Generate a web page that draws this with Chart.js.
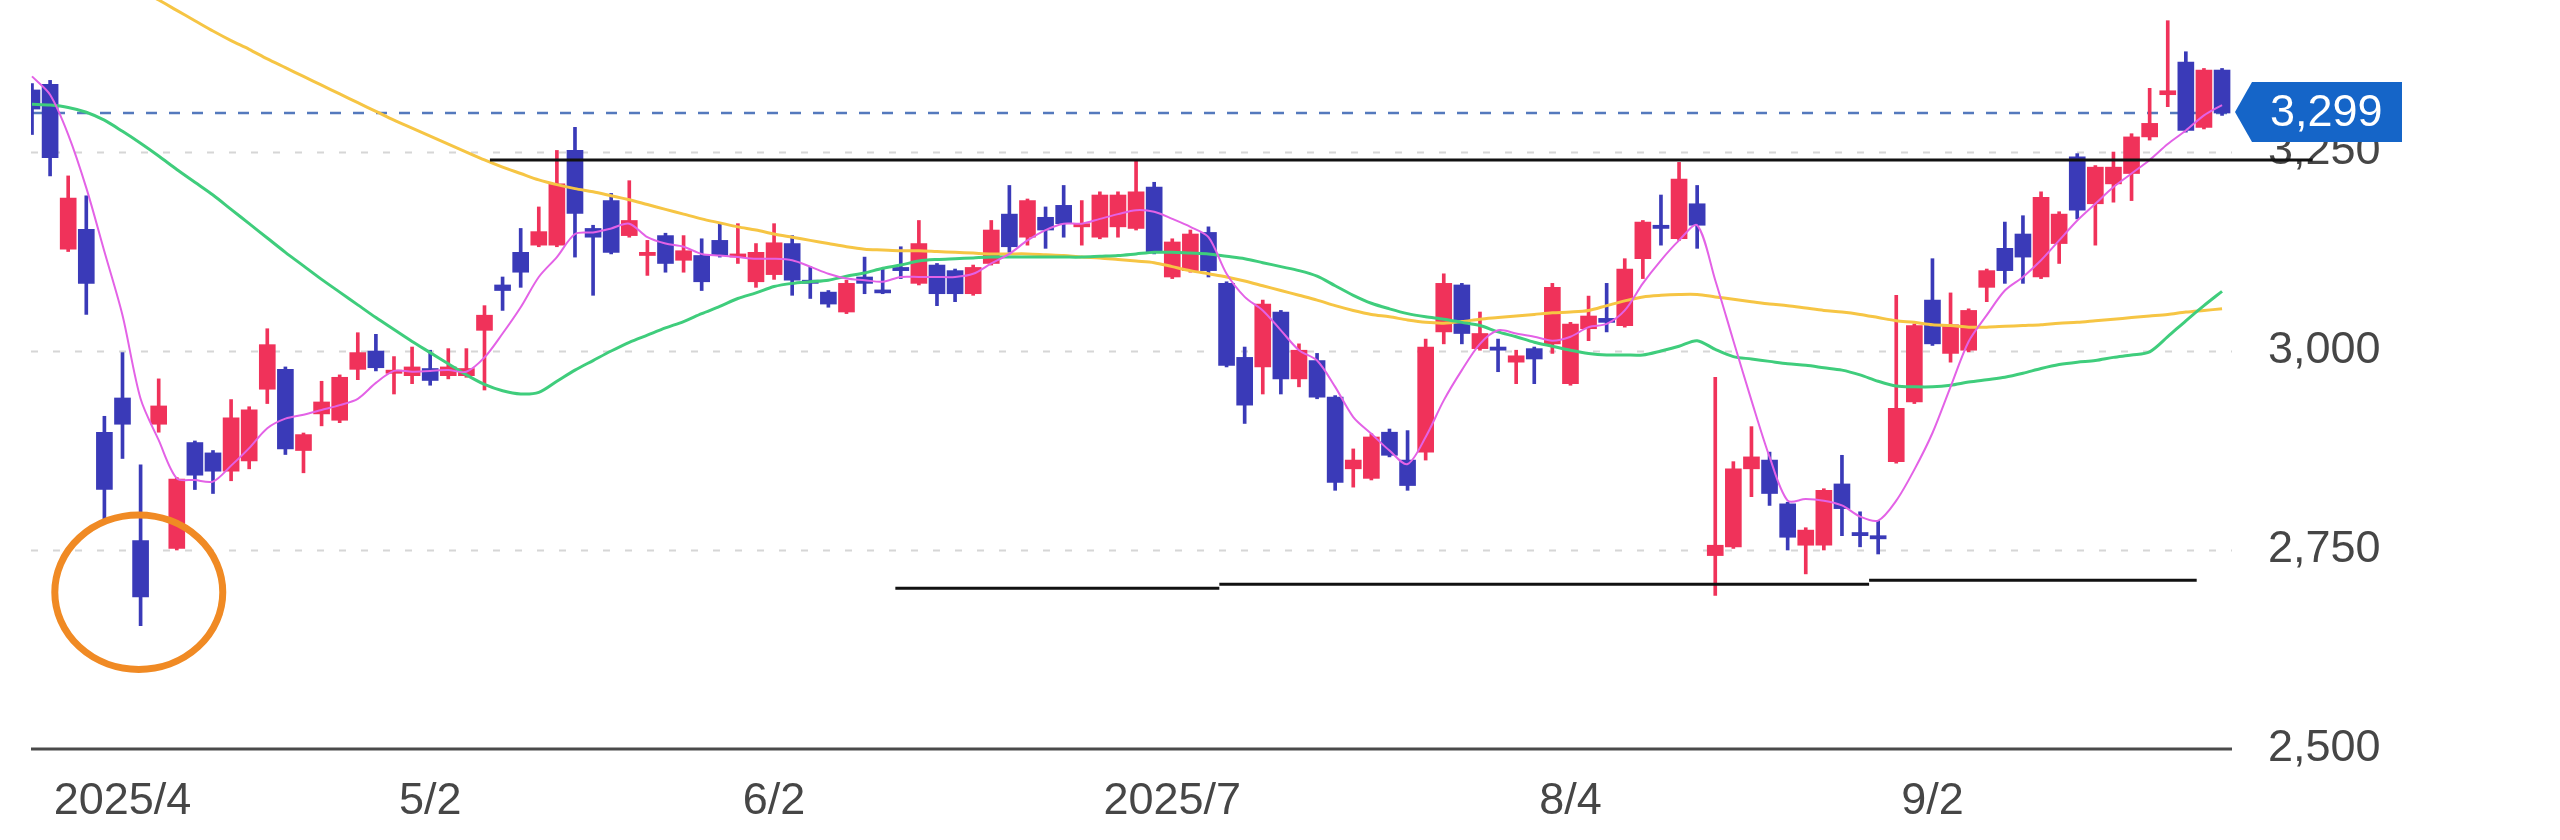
<!DOCTYPE html>
<html>
<head>
<meta charset="utf-8">
<title>Daily candles 2025/4 - 2025/9</title>
<script src="https://cdn.jsdelivr.net/npm/chart.js@4.4.1/dist/chart.umd.min.js"></script>
<style>
  html, body { margin: 0; padding: 0; background: #fff; }
  #wrap { width: 2560px; height: 840px; }
</style>
</head>
<body>
<div id="wrap"><canvas id="chart" width="2560" height="840"></canvas></div>
<script>
// daily candles, index 0 = first session shown (2025/4/1)
var opens = [
  3328,3335,3128,3153,2898,2941,2762,2908,2752,2885,
  2872,2849,2862,2952,2977,2875,2921,2913,2977,3000,
  2972,2969,2978,2969,2969,3026,3083,3124,3133,3133,
  3252,3154,3189,3145,3120,3145,3114,3120,3139,3118,
  3087,3096,3135,3089,3074,3049,3093,3076,3105,3085,
  3108,3101,3072,3110,3172,3143,3168,3183,3156,3143,
  3156,3154,3206,3093,3101,3149,3085,2992,2980,3049,
  2965,2988,2942,2852,2840,2898,2863,2873,3024,3083,
  3003,3005,2986,3003,3009,2959,3028,3041,3032,3116,
  3158,3141,3185,2743,2754,2852,2863,2808,2756,2756,
  2833,2772,2768,2861,2936,3064,2997,3001,3080,3129,
  3147,3093,3135,3244,3185,3210,3223,3269,3322,3363,
  3281,3353
];
var highs = [
  3336,3340,3220,3195,2918,2998,2857,2965,2841,2887,
  2875,2939,2930,3028,2980,2897,2962,2970,3023,3021,
  2993,3005,3001,3003,3003,3057,3093,3154,3181,3252,
  3281,3158,3198,3214,3139,3148,3145,3141,3160,3160,
  3135,3160,3145,3106,3076,3089,3118,3103,3131,3164,
  3110,3103,3108,3164,3208,3191,3181,3208,3189,3200,
  3200,3240,3212,3141,3152,3156,3087,3005,3064,3051,
  3009,2997,2944,2877,2896,2902,2900,3015,3097,3085,
  3049,3015,3001,3005,3085,3036,3069,3085,3116,3164,
  3196,3237,3208,2967,2861,2905,2873,2810,2778,2827,
  2869,2798,2787,3070,3034,3116,3073,3053,3103,3162,
  3170,3200,3175,3248,3233,3250,3273,3330,3415,3376,
  3355,3355
];
var lows = [
  3272,3220,3125,3046,2788,2865,2655,2898,2750,2826,
  2821,2837,2852,2934,2870,2847,2906,2910,2964,2975,
  2946,2959,2957,2965,2967,2951,3051,3080,3131,3131,
  3118,3070,3122,3143,3095,3099,3099,3076,3118,3110,
  3080,3090,3070,3066,3055,3047,3072,3072,3091,3083,
  3057,3062,3070,3108,3124,3133,3129,3143,3133,3141,
  3143,3152,3122,3091,3099,3093,2980,2909,2946,2946,
  2955,2940,2825,2829,2838,2867,2825,2863,3009,3009,
  3001,2974,2959,2959,2997,2957,3013,3024,3030,3091,
  3133,3139,3129,2693,2752,2817,2806,2750,2720,2750,
  2768,2754,2745,2859,2934,3007,2986,2999,3062,3085,
  3085,3091,3110,3166,3133,3187,3189,3265,3307,3275,
  3279,3296
];
var closes = [
  3304,3243,3192,3085,2826,2908,2691,2931,2839,2844,
  2849,2916,2926,3008,2877,2895,2936,2967,2998,2979,
  2976,2980,2963,2980,2978,3045,3076,3099,3150,3210,
  3173,3143,3124,3164,3124,3110,3126,3087,3120,3122,
  3124,3136,3089,3085,3059,3085,3085,3073,3101,3135,
  3072,3072,3105,3152,3131,3189,3152,3160,3160,3196,
  3196,3200,3124,3137,3147,3101,2982,2932,3059,2965,
  3001,2942,2835,2863,2892,2869,2831,3005,3085,3022,
  3022,3001,2994,2990,3080,3034,3044,3036,3103,3162,
  3154,3216,3158,2756,2852,2867,2821,2766,2775,2825,
  2802,2768,2764,2928,3032,3009,3033,3051,3101,3101,
  3118,3193,3172,3177,3231,3231,3269,3286,3327,3277,
  3353,3299
];

// moving average lines
var ma5 = [
  3345,3322,3272,3205,3125,3045,2940,2888,2840,2838,
  2836,2856,2878,2903,2915,2920,2926,2932,2940,2960,
  2975,2974,2975,2976,2974,2992,3022,3055,3093,3118,
  3147,3149,3154,3160,3143,3135,3131,3122,3120,3118,
  3116,3116,3114,3106,3097,3091,3089,3087,3093,3093,
  3093,3093,3097,3110,3122,3139,3152,3160,3160,3166,
  3172,3177,3175,3166,3156,3143,3097,3068,3051,3026,
  3001,2988,2955,2917,2896,2875,2858,2892,2938,2976,
  3009,3026,3022,3018,3013,3018,3030,3034,3051,3085,
  3114,3139,3158,3089,3013,2938,2867,2812,2814,2812,
  2806,2792,2787,2812,2851,2897,2955,3012,3045,3076,
  3093,3114,3139,3164,3185,3206,3223,3240,3260,3277,
  3296,3309
];
var ma25 = [
  3310,3309,3306,3300,3290,3276,3261,3245,3228,3212,
  3196,3178,3160,3142,3124,3107,3090,3074,3058,3042,
  3027,3012,2998,2984,2970,2958,2950,2946,2948,2962,
  2976,2988,3000,3011,3020,3029,3037,3047,3056,3066,
  3073,3081,3085,3087,3089,3094,3098,3104,3108,3113,
  3115,3116,3117,3118,3118,3118,3118,3118,3118,3119,
  3120,3122,3124,3124,3123,3122,3119,3116,3111,3106,
  3101,3094,3082,3070,3060,3053,3047,3043,3040,3036,
  3032,3024,3018,3011,3006,3001,2997,2995,2995,2995,
  3000,3006,3013,3002,2993,2990,2987,2984,2982,2979,
  2976,2970,2962,2956,2955,2955,2957,2961,2964,2967,
  2972,2978,2983,2986,2988,2992,2995,2999,3018,3038,
  3057,3075
];
var ma75 = [
  3530,3518,3505,3492,3479,3466,3453,3441,3428,3415,
  3402,3390,3379,3367,3356,3345,3334,3323,3312,3301,
  3290,3280,3270,3260,3250,3240,3231,3223,3215,3209,
  3204,3200,3195,3190,3184,3178,3172,3166,3161,3156,
  3152,3147,3143,3139,3135,3131,3128,3127,3126,3126,
  3125,3124,3123,3122,3122,3122,3121,3120,3118,3117,
  3115,3113,3111,3106,3101,3097,3093,3088,3082,3076,
  3070,3064,3057,3051,3046,3043,3039,3036,3035,3037,
  3040,3042,3044,3046,3048,3049,3051,3057,3063,3068,
  3070,3071,3071,3068,3065,3062,3059,3057,3054,3051,
  3049,3046,3042,3038,3036,3033,3032,3030,3030,3031,
  3032,3033,3035,3036,3038,3040,3042,3044,3046,3049,
  3051,3053
];

var yTicks = [2500, 2750, 3000, 3250];
var xTickIdx = [5, 22, 41, 63, 85, 105];
var xTickText = ['2025/4', '5/2', '6/2', '2025/7', '8/4', '9/2'];

// hand drawn marks on the chart (index / price units)
var resistance = { from: 25.3, to: 126, value: 3240 };
var supports = [
  { from: 47.7, to: 65.6, value: 2702 },
  { from: 65.6, to: 101.5, value: 2707 },
  { from: 101.5, to: 119.6, value: 2712 }
];
var lowMark = { x: 5.9, y: 2697, rx: 4.64, ry: 97 };

var RED = '#f0325a';
var BLUE = '#3a3ab8';
var FONT = '"Liberation Sans", Arial, sans-serif';

Chart.defaults.font.family = FONT;

function upColor(i) {
  return closes[i] >= opens[i] ? RED : BLUE;
}
function pairs(a, b) {
  return a.map(function (v, i) { return { x: i, y: [v, b[i]] }; });
}
function points(a) {
  return a.map(function (v, i) { return { x: i, y: v }; });
}
function line(c, x1, y1, x2, y2) {
  c.beginPath();
  c.moveTo(x1, y1);
  c.lineTo(x2, y2);
  c.stroke();
}

var overlay = {
  id: 'overlay',
  beforeDatasetsDraw: function (chart) {
    var c = chart.ctx, a = chart.chartArea, y = chart.scales.y;
    c.save();
    c.lineWidth = 2;
    c.strokeStyle = '#d6d6d6';
    c.setLineDash([7, 15]);
    yTicks.slice(1).forEach(function (v) {
      var py = Math.round(y.getPixelForValue(v)) + 0.5;
      line(c, a.left, py, a.right, py);
    });
    // last price
    c.strokeStyle = '#5479bd';
    c.lineWidth = 2.5;
    c.setLineDash([11, 12]);
    var lp = Math.round(y.getPixelForValue(closes[closes.length - 1]));
    line(c, a.left, lp, a.right, lp);
    // base axis line
    c.setLineDash([]);
    c.strokeStyle = '#4a4a4a';
    c.lineWidth = 3;
    var by = y.getPixelForValue(yTicks[0]);
    line(c, a.left, by, a.right, by);
    c.restore();
  },
  afterDraw: function (chart) {
    var c = chart.ctx, a = chart.chartArea, x = chart.scales.x, y = chart.scales.y;
    c.save();
    c.strokeStyle = '#111';
    c.lineWidth = 3;
    var ry = y.getPixelForValue(resistance.value);
    line(c, x.getPixelForValue(resistance.from), ry, x.getPixelForValue(resistance.to), ry);
    supports.forEach(function (s) {
      var sy = y.getPixelForValue(s.value);
      line(c, x.getPixelForValue(s.from), sy, x.getPixelForValue(s.to), sy);
    });

    // circle round the April low
    var cx = x.getPixelForValue(lowMark.x), cy = y.getPixelForValue(lowMark.y);
    var rx = x.getPixelForValue(lowMark.x + lowMark.rx) - cx;
    var rr = cy - y.getPixelForValue(lowMark.y + lowMark.ry);
    c.strokeStyle = '#f08a24';
    c.lineWidth = 7;
    c.beginPath();
    c.ellipse(cx, cy, rx, rr, 0, 0, Math.PI * 2);
    c.stroke();

    // price tag
    var last = closes[closes.length - 1];
    var ty = y.getPixelForValue(last) - 1, tx = a.right + 3;
    c.fillStyle = '#1565c8';
    c.beginPath();
    c.moveTo(tx, ty);
    c.lineTo(tx + 17, ty - 30);
    c.lineTo(tx + 167, ty - 30);
    c.lineTo(tx + 167, ty + 30);
    c.lineTo(tx + 17, ty + 30);
    c.closePath();
    c.fill();
    c.fillStyle = '#fff';
    c.font = '45px ' + FONT;
    c.textAlign = 'left';
    c.textBaseline = 'middle';
    c.fillText(last.toLocaleString('en-US'), tx + 35, ty + 2);
    c.restore();
  }
};

var ctx = document.getElementById('chart').getContext('2d');
var chart = new Chart(ctx, {
  type: 'bar',
  data: {
    datasets: [
      { type: 'line', label: '5', data: points(ma5), borderColor: '#e362e6', borderWidth: 2,
        pointRadius: 0, tension: 0.3, order: 1 },
      { type: 'line', label: '25', data: points(ma25), borderColor: '#3fcd7c', borderWidth: 3,
        pointRadius: 0, tension: 0.3, order: 2 },
      { type: 'line', label: '75', data: points(ma75), borderColor: '#f6c544', borderWidth: 3,
        pointRadius: 0, tension: 0.3, order: 3 },
      { label: 'body', data: pairs(opens, closes), barThickness: 16, minBarLength: 3,
        grouped: false, borderWidth: 0, order: 4,
        backgroundColor: function (c) { return upColor(c.dataIndex); } },
      { label: 'wick', data: pairs(lows, highs), barThickness: 3,
        grouped: false, borderWidth: 0, order: 5,
        backgroundColor: function (c) { return upColor(c.dataIndex); } }
    ]
  },
  options: {
    responsive: false,
    animation: false,
    devicePixelRatio: 1,
    layout: { padding: { left: 31, top: 0, right: 0, bottom: 0 } },
    plugins: { legend: { display: false }, tooltip: { enabled: false } },
    scales: {
      x: {
        type: 'linear',
        min: -0.055,
        max: 121.55,
        offset: false,
        grid: { display: false, drawTicks: false },
        border: { display: false },
        afterBuildTicks: function (s) {
          s.ticks = xTickIdx.map(function (v) { return { value: v }; });
        },
        afterFit: function (s) {
          s.height = 91;
          s.paddingLeft = 0;
          s.paddingRight = 0;
        },
        ticks: {
          autoSkip: false,
          maxRotation: 0,
          padding: 26,
          color: '#464646',
          font: { size: 45 },
          callback: function (v, i) { return xTickText[i]; }
        }
      },
      y: {
        position: 'right',
        min: 2500,
        max: 3441,
        grid: { display: false, drawTicks: false },
        border: { display: false },
        afterBuildTicks: function (s) {
          s.ticks = yTicks.map(function (v) { return { value: v }; });
        },
        afterFit: function (s) {
          s.width = 328;
          s.paddingTop = 0;
          s.paddingBottom = 0;
        },
        ticks: {
          padding: 36,
          color: '#464646',
          font: { size: 45 },
          callback: function (v) { return v.toLocaleString('en-US'); }
        }
      }
    }
  },
  plugins: [overlay]
});
</script>
</body>
</html>
